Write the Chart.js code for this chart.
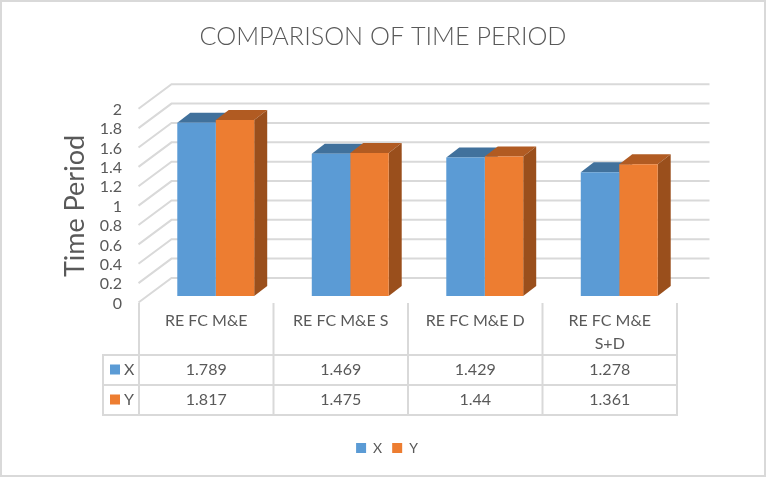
<!DOCTYPE html>
<html>
<head>
<meta charset="utf-8">
<style>
  html, body { margin: 0; padding: 0; background: #fff; }
  #wrap { width: 766px; height: 477px; }
</style>
<script src="https://cdn.jsdelivr.net/npm/chart.js@4"></script>
</head>
<body>
<div id="wrap"><canvas id="chart" width="766" height="477"></canvas></div>
<script>
const categories = ['RE FC M&E', 'RE FC M&E S', 'RE FC M&E D', ['RE FC M&E', 'S+D']];
const seriesX = [1.789, 1.469, 1.429, 1.278];
const seriesY = [1.817, 1.475, 1.44, 1.361];
const tickLabels = ['0', '0.2', '0.4', '0.6', '0.8', '1', '1.2', '1.4', '1.6', '1.8', '2'];

const GREY = '#595959';
const LINE = '#d9d9d9';
const FONT = 'Lato, sans-serif';

// fakes the excel 3d look and the data table around the flat bars
const box3d = {
  id: 'box3d',
  afterLayout(chart) {
    // legend sits a little right of centre in the original
    chart.legend.left += 4;
    chart.legend.right += 4;
  },
  beforeDatasetsDraw(chart) {
    const ctx = chart.ctx;
    const y = chart.scales.y;
    const left = chart.chartArea.left;

    ctx.save();
    // picture frame
    ctx.strokeStyle = LINE;
    ctx.lineWidth = 2;
    ctx.strokeRect(1, 1, chart.width - 2, chart.height - 2);

    tickLabels.forEach(t => {
      const py = y.getPixelForValue(Number(t));
      ctx.beginPath();
      ctx.moveTo(left - 10, py + 6.5);
      ctx.lineTo(left + 23, py - 18);
      ctx.lineTo(left + 561, py - 18);
      ctx.stroke();
    });

    const tops = ['#41719c', '#b15b22'];
    const sides = ['#3d6a94', '#9a4f1c'];
    chart.data.datasets.forEach((ds, i) => {
      chart.getDatasetMeta(i).data.forEach(bar => {
        const x0 = bar.x - bar.width / 2, x1 = bar.x + bar.width / 2;
        ctx.fillStyle = tops[i];
        ctx.beginPath();
        ctx.moveTo(x0, bar.y);
        ctx.lineTo(x0 + 13, bar.y - 10);
        ctx.lineTo(x1 + 13, bar.y - 10);
        ctx.lineTo(x1, bar.y);
        ctx.fill();
        ctx.fillStyle = sides[i];
        ctx.beginPath();
        ctx.moveTo(x1, bar.y);
        ctx.lineTo(x1 + 13, bar.y - 10);
        ctx.lineTo(x1 + 13, bar.base - 10);
        ctx.lineTo(x1, bar.base);
        ctx.fill();
      });
    });
    ctx.restore();
  },
  afterDraw(chart) {
    const ctx = chart.ctx;
    const y = chart.scales.y;
    const x = chart.scales.x;
    const step = x.getPixelForValue(1) - x.getPixelForValue(0);
    const colX = i => x.getPixelForValue(i) - 9.5;   // table cell centre

    ctx.save();
    ctx.fillStyle = GREY;
    ctx.textBaseline = 'middle';

    // y tick labels sit on the front edge of the side wall
    ctx.font = '16px ' + FONT;
    ctx.textAlign = 'right';
    tickLabels.forEach(t => ctx.fillText(t, 122, y.getPixelForValue(Number(t)) + 7.5));

    // axis title
    ctx.save();
    ctx.translate(75, 206);
    ctx.rotate(-Math.PI / 2);
    ctx.textAlign = 'center';
    ctx.font = '27px ' + FONT;
    ctx.fillText('Time Period', 0, 0);
    ctx.restore();

    // data table lines
    const gridL = colX(0) - step / 2;
    const gridR = gridL + step * categories.length;
    ctx.strokeStyle = LINE;
    ctx.lineWidth = 2;
    for (let i = 0; i <= categories.length; i++) {
      const lx = gridL + step * i;
      ctx.beginPath();
      ctx.moveTo(lx, 303);
      ctx.lineTo(lx, 416);
      ctx.stroke();
    }
    [355, 385, 415].forEach(ly => {
      ctx.beginPath();
      ctx.moveTo(103, ly);
      ctx.lineTo(gridR, ly);
      ctx.stroke();
    });
    ctx.beginPath();
    ctx.moveTo(103, 354);
    ctx.lineTo(103, 416);
    ctx.stroke();

    // table text
    ctx.fillStyle = GREY;
    ctx.textAlign = 'center';
    ctx.font = '16px ' + FONT;
    categories.forEach((c, i) => {
      [].concat(c).forEach((line, k) => ctx.fillText(line, colX(i), 321 + k * 23));
    });
    chart.data.datasets.forEach((ds, d) => {
      const rowY = 369.5 + d * 30;
      ds.data.forEach((v, i) => ctx.fillText(String(v), colX(i), rowY));
      ctx.fillStyle = ds.backgroundColor;
      ctx.fillRect(110, rowY - 5, 10, 10);
      ctx.fillStyle = GREY;
      ctx.textAlign = 'left';
      ctx.fillText(ds.label, 124, rowY);
      ctx.textAlign = 'center';
    });
    ctx.restore();
  }
};

const hidden = { grid: { display: false }, border: { display: false }, ticks: { display: false } };

new Chart(document.getElementById('chart'), {
  type: 'bar',
  data: {
    labels: categories,
    datasets: [
      { label: 'X', data: seriesX, backgroundColor: '#5b9bd5' },
      { label: 'Y', data: seriesY, backgroundColor: '#ed7d31' }
    ]
  },
  options: {
    responsive: false,
    animation: false,
    events: [],
    layout: { padding: { left: 0, right: 0, top: 0, bottom: 12 } },
    datasets: { bar: { categoryPercentage: 0.572, barPercentage: 1 } },
    scales: {
      // empty axes only reserve the room the table and the walls need
      x: { ...hidden, afterFit: s => { s.height = 135; } },
      y: { ...hidden, min: 0, max: 2, ticks: { display: false, stepSize: 0.2 }, afterFit: s => { s.width = 148.5; } },
      yRight: { ...hidden, position: 'right', afterFit: s => { s.width = 79.5; } }
    },
    plugins: {
      tooltip: { enabled: false },
      title: {
        display: true,
        text: 'COMPARISON OF TIME PERIOD',
        color: GREY,
        font: { family: FONT, size: 25.2, weight: '300' },
        padding: { top: 22, bottom: 50 }
      },
      legend: {
        position: 'bottom',
        labels: {
          color: GREY,
          font: { family: FONT, size: 14 },
          boxWidth: 10,
          boxHeight: 10,
          padding: 10
        }
      }
    }
  },
  plugins: [box3d]
});
</script>
</body>
</html>
